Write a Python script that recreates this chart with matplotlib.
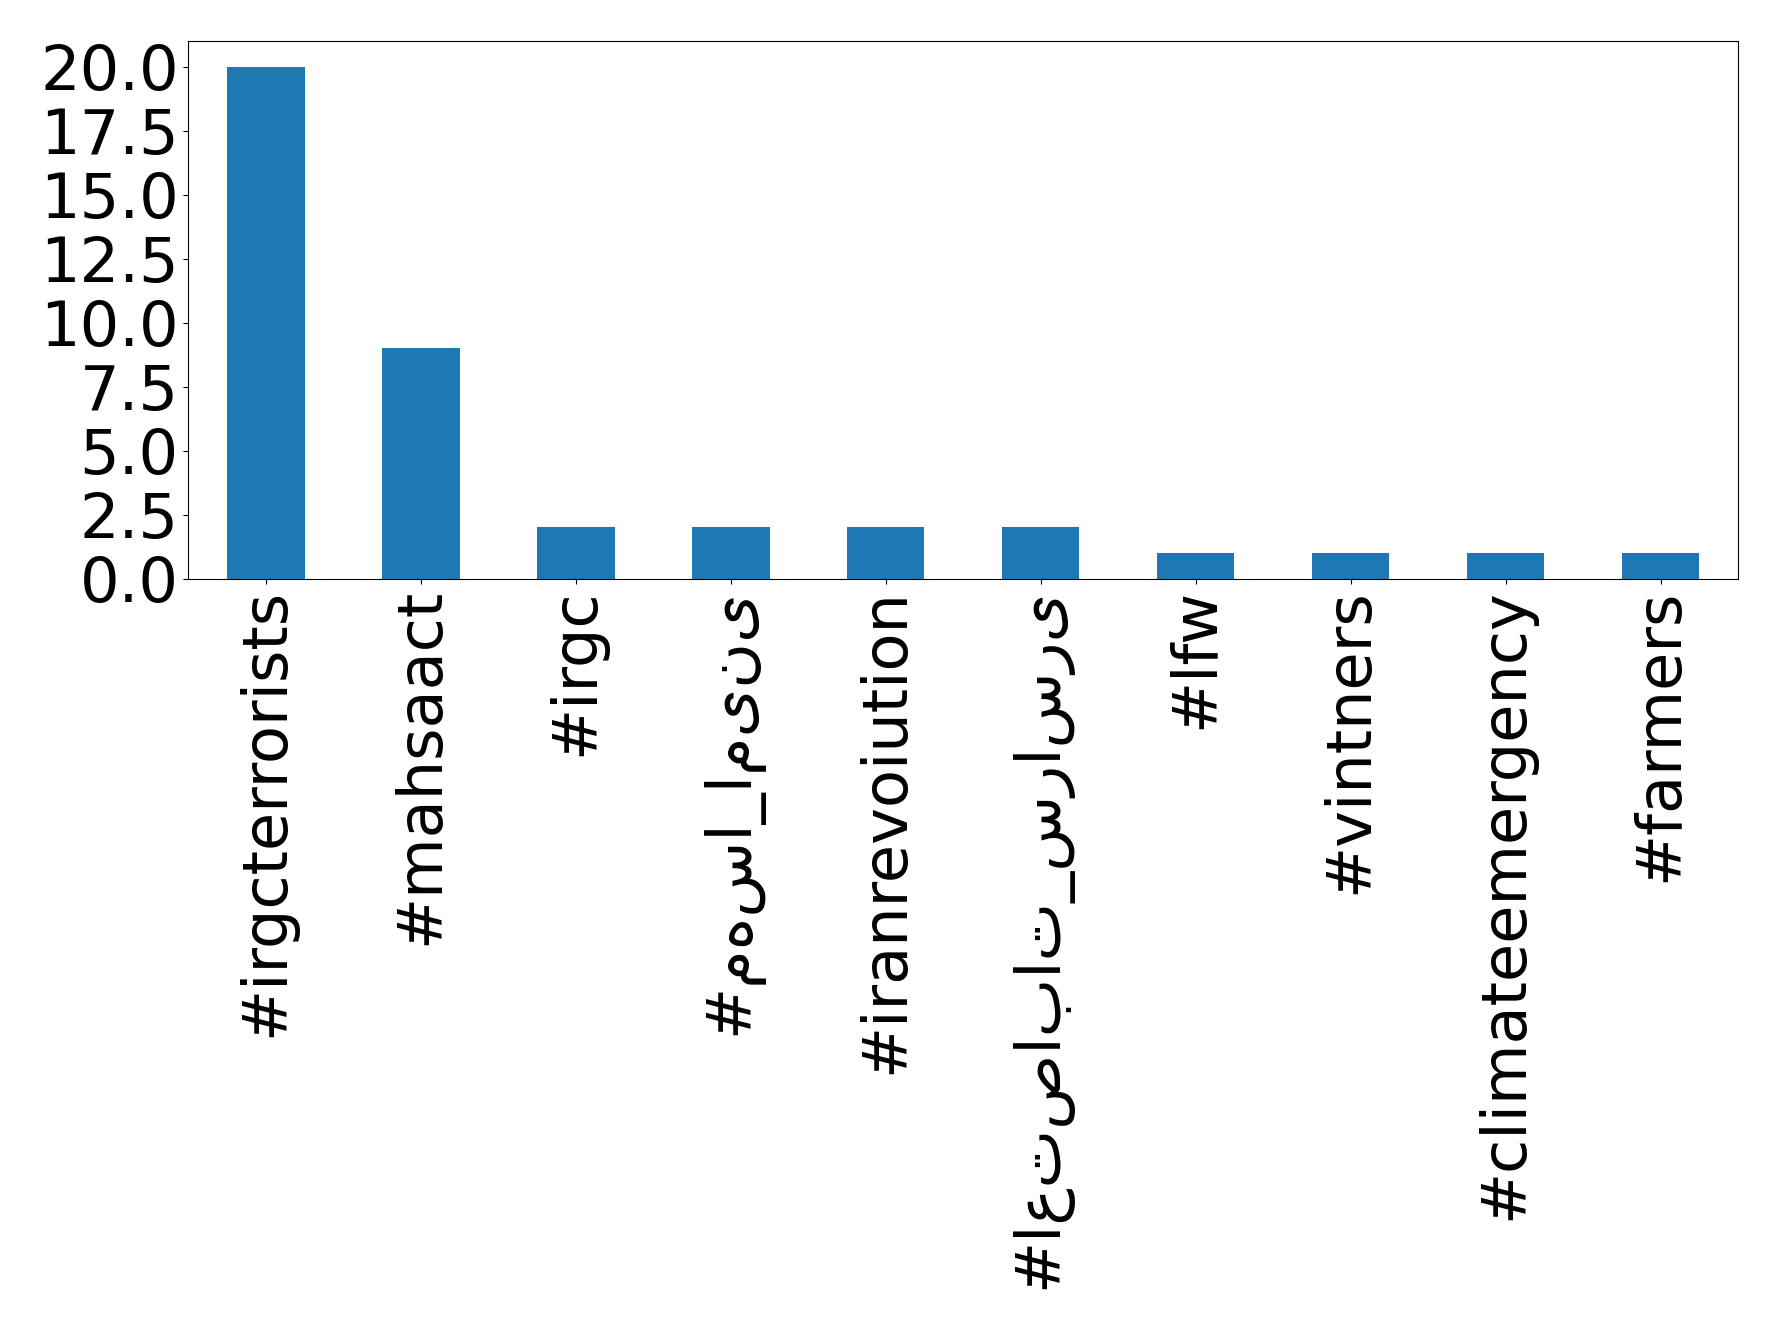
import matplotlib
matplotlib.use("Agg")
import matplotlib.pyplot as plt

# hashtag counts
hashtags = ["#irgcterrorists", "#mahsaact", "#irgc", "#مهسا_امینی",
            "#iranrevoiution", "#اعتصابات_سراسری", "#lfw", "#vintners",
            "#climateemergency", "#farmers"]
counts = [20, 9, 2, 2, 2, 2, 1, 1, 1, 1]

plt.rcParams['font.family'] = ['DejaVu Sans']

fig = plt.figure(figsize=(17.78, 13.33), dpi=100)
ax = fig.add_axes([0.106, 0.566, 0.8715, 0.403])

x = list(range(len(hashtags)))
ax.bar(x, counts, width=0.5, color="#1f77b4")
ax.set_xticks(x)
ax.set_xticklabels(hashtags, rotation=90, fontsize=44.8)
ax.set_xlim(-0.5, len(hashtags) - 0.5)
ax.set_ylim(0, 21)
ax.set_yticks([0, 2.5, 5, 7.5, 10, 12.5, 15, 17.5, 20])
ax.set_yticklabels(["0.0", "2.5", "5.0", "7.5", "10.0", "12.5", "15.0",
                    "17.5", "20.0"])
ax.tick_params(axis='y', labelsize=44.8)

fig.savefig("out.png", dpi=100)
